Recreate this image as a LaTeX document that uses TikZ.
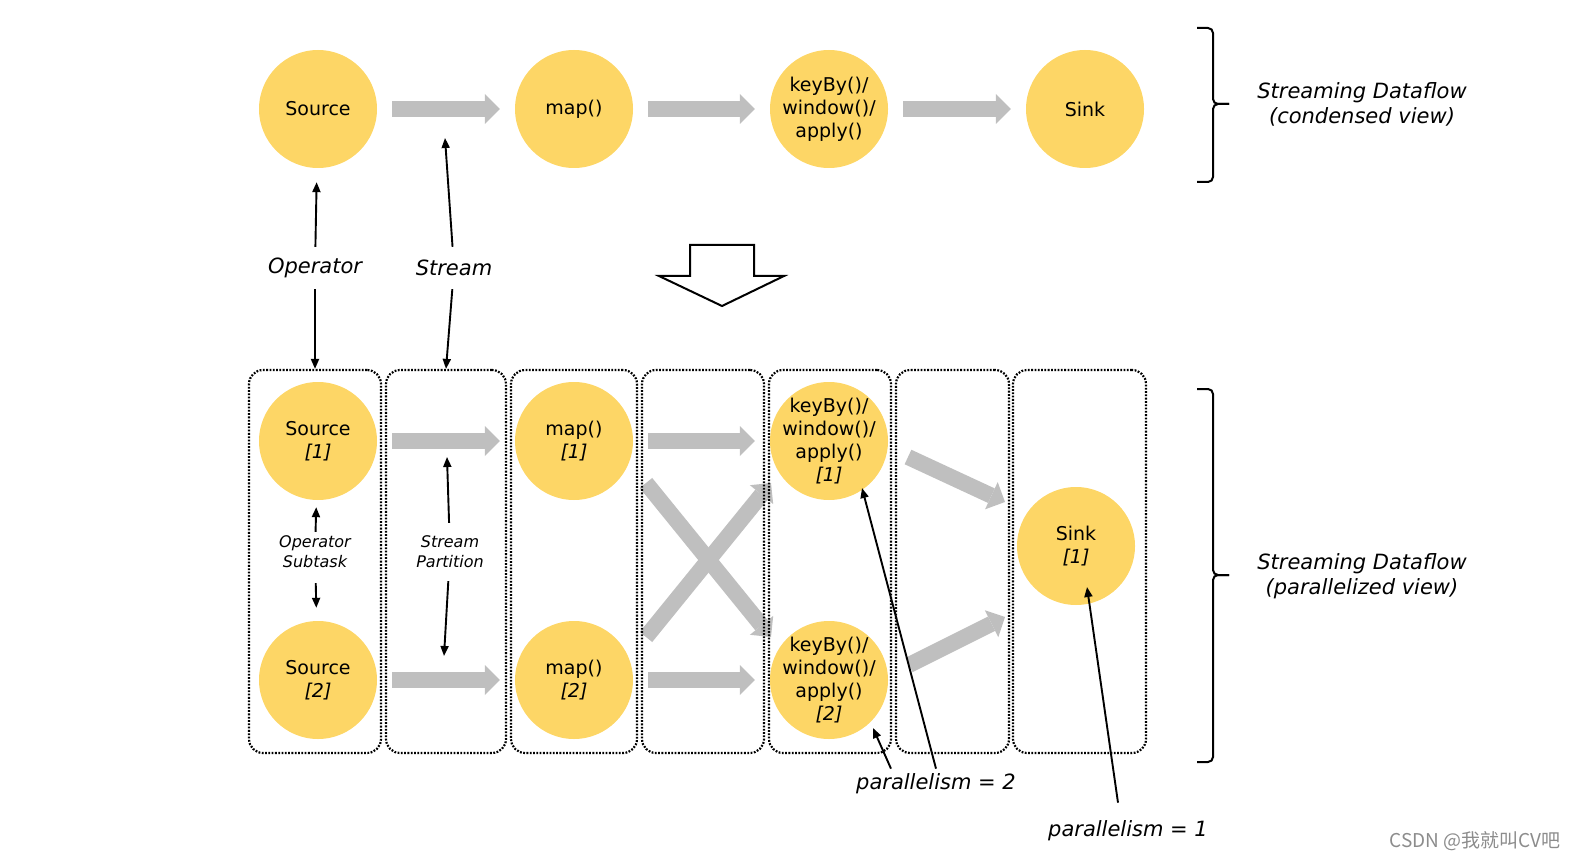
\documentclass[tikz,border=0pt]{standalone}
\usepackage{fontspec}
\setmainfont{DejaVu Sans}
\newfontfamily\cjkfont{Noto Sans CJK SC}
\usetikzlibrary{arrows.meta,calc}
\definecolor{opyellow}{RGB}{253,214,102}
\definecolor{flowgray}{RGB}{191,191,191}
\begin{document}
\begin{tikzpicture}[x=1pt,y=-1pt,
  op/.style={circle, fill=opyellow, minimum size=118pt, inner sep=-14pt, align=center, font=\fontsize{19}{23}\selectfont},
  flow/.style={draw=flowgray, line width=16pt, -{Triangle[length=15pt,width=30pt,line width=0pt]}, shorten <=15pt, shorten >=15pt},
  flowfree/.style={flow, shorten <=0pt, shorten >=0pt},
  colbox/.style={draw, rounded corners=14pt, dash pattern=on 1.8pt off 1.5pt, line width=2.2pt, inner sep=0pt, minimum height=383pt},
  tarr/.style={draw, line width=1.9pt, -{Triangle[length=10pt,width=8pt]}},
  lbl/.style={font=\itshape\fontsize{21}{25}\selectfont, inner sep=0pt, align=center},
  slbl/.style={font=\itshape\fontsize{16}{20}\selectfont, inner sep=0pt, align=center},
  brace/.style={draw, line width=2pt, rounded corners=5pt},
]
\useasboundingbox (0,0) rectangle (1578,858);

% ---------- condensed view ----------
\node[op] (src)  at (318,109)  {Source};
\node[op] (map)  at (574,109)  {map()};
\node[op] (kw)   at (829,109)  {keyBy()/\\window()/\\apply()};
\node[op] (sink) at (1085,109) {Sink};
\draw[flow] (src) -- (map);
\draw[flow] (map) -- (kw);
\draw[flow] (kw) -- (sink);

% ---------- labels between views ----------
\node[lbl, minimum height=42pt] (oplbl) at (315,268) {Operator};
\node[lbl, minimum height=42pt] (stlbl) at (454,268) {Stream};
\coordinate (stup) at (445,138);

% hollow arrow
\draw[line width=2pt, line join=miter, fill=white] (690,245) -- (754,245) -- (754,276) -- (784,276) -- (722,306) -- (659,276) -- (690,276) -- cycle;

% ---------- parallelized view ----------
\coordinate (x1s) at (646,483);
\coordinate (x1e) at (771,637);
\coordinate (x2s) at (646,637);
\coordinate (x2e) at (771,483);
\coordinate (k1o) at (908,457);
\coordinate (s1a) at (1005,502);
\coordinate (k2o) at (909,665);
\coordinate (s1b) at (1005,617);

\node[op] (src1)  at (318,441)  {Source\\\textit{[1]}};
\node[op] (src2)  at (318,680)  {Source\\\textit{[2]}};
\node[op] (map1)  at (574,441)  {map()\\\textit{[1]}};
\node[op] (map2)  at (574,680)  {map()\\\textit{[2]}};

\draw[flow] (src1) -- (map1);
\draw[flow] (src2) -- (map2);
\draw[flowfree] (x1s) -- (x1e);
\draw[flowfree] (x2s) -- (x2e);
\draw[flowfree] (k1o) -- (s1a);
\draw[flowfree] (k2o) -- (s1b);

% columns
\node[colbox, minimum width=132pt] (b1) at (315,561.5) {};
\node[colbox, minimum width=120pt] (b2) at (446,561.5) {};
\node[colbox, minimum width=126pt] (b3) at (574,561.5) {};
\node[colbox, minimum width=122pt] (b4) at (703,561.5) {};
\node[colbox, minimum width=122pt] (b5) at (830,561.5) {};
\node[colbox, minimum width=113pt] (b6) at (952.5,561.5) {};
\node[colbox, minimum width=133pt] (b7) at (1079.5,561.5) {};

\node[op] (kw1)   at (829,441)  {keyBy()/\\window()/\\apply()\\\textit{[1]}};
\node[op] (kw2)   at (829,680)  {keyBy()/\\window()/\\apply()\\\textit{[2]}};
\node[op] (sink1) at (1076,546) {Sink\\\textit{[1]}};

\draw[flow] (map1) -- (kw1);
\draw[flow] (map2) -- (kw2);

% ---------- annotation arrows ----------
\draw[tarr, shorten >=14pt] (oplbl) -- (src);
\draw[tarr] (oplbl) -- (b1.north);
\draw[tarr] (stlbl) -- (stup);
\draw[tarr] (stlbl) -- (b2.north);

\node[slbl, minimum height=40pt] (ost) at (315,552) {Operator\\Subtask};
\draw[tarr, shorten >=7pt] (ost) -- (src1);
\draw[tarr, shorten <=11pt, shorten >=13pt] (ost) -- (src2);

\node[slbl, minimum height=58pt] (spl) at (450,552) {Stream\\Partition};
\coordinate (sptop) at (447,457);
\coordinate (spbot) at (444,656);
\draw[tarr] (spl) -- (sptop);
\draw[tarr] (spl) -- (spbot);

\node[lbl, inner ysep=5pt] (p2) at (936,784) {parallelism = 2};
\coordinate (p2a) at (862,488);
\coordinate (p2b) at (873,728);
\draw[tarr] (p2.north) -- (p2a);
\draw[tarr] ([xshift=35pt]p2.north west) -- (p2b);

\node[lbl] (p1) at (1128,831) {parallelism = 1};
\coordinate (p1a) at (1087,587);
\draw[tarr] ([xshift=-10pt,yshift=18pt]p1.north) -- (p1a);

% ---------- braces and view labels ----------
\draw[brace] (1197,28) -- (1213,28) -- (1213,104) -- (1229,104);
\draw[brace] (1229,104) -- (1213,104) -- (1213,182) -- (1197,182);
\node[lbl] (cv) at (1362,104) {Streaming Dataflow\\(condensed view)};

\draw[brace] (1197,389) -- (1213,389) -- (1213,575) -- (1229,575);
\draw[brace] (1229,575) -- (1213,575) -- (1213,762) -- (1197,762);
\node[lbl] (pv) at (1362,576) {Streaming Dataflow\\(parallelized view)};

\node[font=\cjkfont\fontsize{19}{21}\selectfont, text=black!45, inner sep=0pt] (wm) at (1475,841) {CSDN @我就叫CV吧};
\end{tikzpicture}
\end{document}
